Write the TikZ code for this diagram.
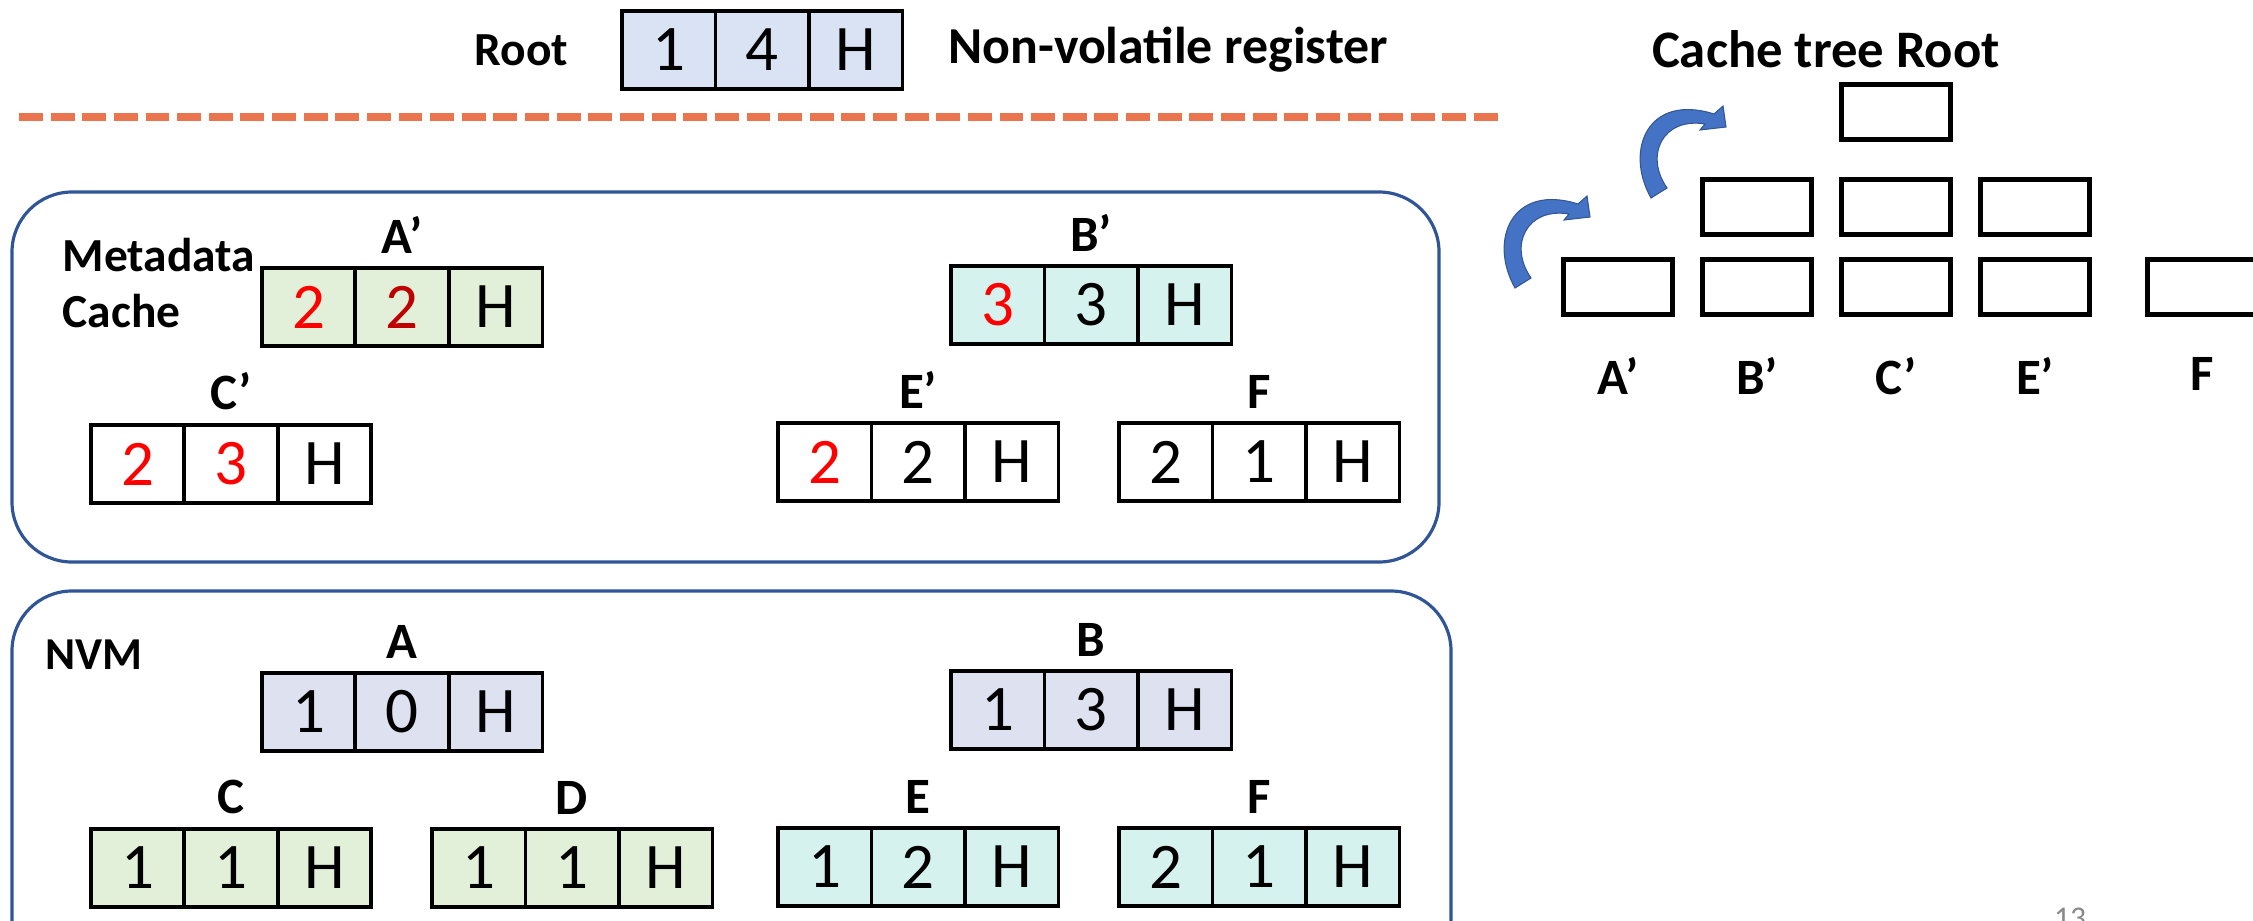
\documentclass[tikz,border=0pt]{standalone}
\usepackage{fontspec}
\setmainfont{Carlito}
\usetikzlibrary{positioning}

\definecolor{rootblue}{HTML}{DAE3F3}
\definecolor{nvmblue}{HTML}{DEE2F0}
\definecolor{leafgreen}{HTML}{E2F0D9}
\definecolor{leafcyan}{HTML}{D5F2EE}
\definecolor{frameblue}{HTML}{2F5597}
\definecolor{splitorange}{HTML}{E9744D}
\definecolor{arrowblue}{HTML}{4472C4}
\definecolor{darkred}{HTML}{C00000}
\definecolor{pagegray}{HTML}{898989}

% one metadata entry: three fields side by side, tag above the middle one
% #1 name, #2 middle field, #3 fill, #4 tag, #5-#7 field values
\newcommand{\register}[7]{%
	\node[cell, fill=#3] (#1-2) at (#2) {#6};
	\node[cell, fill=#3, left=0pt of #1-2] (#1-1) {#5};
	\node[cell, fill=#3, right=0pt of #1-2] (#1-3) {#7};
	\if\relax\detokenize{#4}\relax\else
		\node[tag, above=4pt of #1-2] (#1-tag) {#4};
	\fi
}

\begin{document}
\begin{tikzpicture}[
		x=0.1mm, y=-0.1mm, % one unit per pixel, y pointing down
		cell/.style={
				draw,
				rectangle,
				line width=1pt,
				minimum width=9.35mm,
				minimum height=7.8mm,
				inner sep=0pt,
				outer sep=0pt,
				font=\fontsize{18.5}{20}\selectfont
			},
		tag/.style={
				inner sep=0pt,
				font=\bfseries\fontsize{14.5}{16}\selectfont
			},
		heading/.style={
				inner sep=0pt,
				font=\bfseries\fontsize{13.5}{16}\selectfont
			},
		region/.style={
				draw=frameblue,
				line width=0.9pt,
				rounded corners=6mm
			},
		tbox/.style={
				draw,
				rectangle,
				line width=1.4pt,
				minimum width=10.9mm,
				minimum height=5.5mm,
				inner sep=0pt,
				outer sep=0pt
			},
		separator/.style={
				draw=splitorange,
				line width=2.3pt,
				dash pattern=on 6.8pt off 2.2pt
			},
		swaparrow/.style={
				fill=arrowblue,
				draw=arrowblue!75!black,
				line width=0.3pt
			}
	]
	\useasboundingbox (0,0) rectangle (2253,920);
	\clip (0,0) rectangle (2253,920);

	% Root register
	\register{root}{762,50}{rootblue}{}{1}{4}{H}
	\node[heading, left=15pt of root-1] (rootname) {Root};
	\node[heading, font=\bfseries\fontsize{14.75}{17}\selectfont, right=13pt of root-3] (nvreg) {Non-volatile register};
	\draw[separator] (19,117) -- (1503,117);

	% Metadata cache
	\draw[region] (12,192) rectangle (1439,562);
	\node[heading, align=left, anchor=north west] (mcname) at (62,237) {Metadata\\Cache};
	\register{Ap}{402,307}{leafgreen}{A'}{\color{red}2}{\color{darkred}2}{H}
	\register{Bp}{1091,305}{leafcyan}{B'}{\color{red}3}{3}{H}
	\register{Cp}{231,464}{white}{C'}{\color{red}2}{\color{red}3}{H}
	\register{Ep}{918,462}{white}{E'}{\color{red}2}{2}{H}
	\register{Fp}{1259,462}{white}{F}{2}{1}{H}

	% NVM
	\draw[region] (12,591) rectangle (1451,990);
	\node[heading, font=\bfseries\fontsize{13}{16}\selectfont] (nvm) at (94,655) {NVM};
	\register{A}{402,712}{nvmblue}{A}{1}{0}{H}
	\register{B}{1091,710}{nvmblue}{B}{1}{3}{H}
	\register{C}{231,868}{leafgreen}{C}{1}{1}{H}
	\register{D}{572,868}{leafgreen}{D}{1}{1}{H}
	\register{E}{918,867}{leafcyan}{E}{1}{2}{H}
	\register{F}{1259,867}{leafcyan}{F}{2}{1}{H}

	% Cache tree
	\node[heading, font=\bfseries\fontsize{15}{18}\selectfont] (ctname) at (1826,49) {Cache tree Root};
	\node[tbox] (ct-Ap) at (1618,287) {};
	\node[tbox, right=3mm of ct-Ap] (ct-Bp) {};
	\node[tbox, right=3mm of ct-Bp] (ct-Cp) {};
	\node[tbox, right=3mm of ct-Cp] (ct-Ep) {};
	\node[tbox, right=5.8mm of ct-Ep] (ct-F) {};
	\node[tbox, above=2.5mm of ct-Bp] (ct-1) {};
	\node[tbox, above=2.5mm of ct-Cp] (ct-2) {};
	\node[tbox, above=2.5mm of ct-Ep] (ct-3) {};
	\node[tbox, above=4mm of ct-2] (ct-root) {};
	\foreach \leaf/\txt in {Ap/A', Bp/B', Cp/C', Ep/E', F/F}
		\node[tag, below=12pt of ct-\leaf] (ct-\leaf-tag) {\txt};

	% Climbing arrows
	\foreach \dx/\dy in {0/0, 136/-90}
		\filldraw[swaparrow, shift={(\dx,\dy)}] (1515,288) .. controls (1488,240) and (1512,183) .. (1578,204)
			-- (1587,196) -- (1590,217) -- (1564,220) -- (1569,214)
			.. controls (1527,207) and (1508,245) .. (1531,278) -- cycle;

	\node[font=\fontsize{9}{10}\selectfont, text=pagegray, anchor=base] (pageno) at (2070,928) {13};
\end{tikzpicture}
\end{document}
